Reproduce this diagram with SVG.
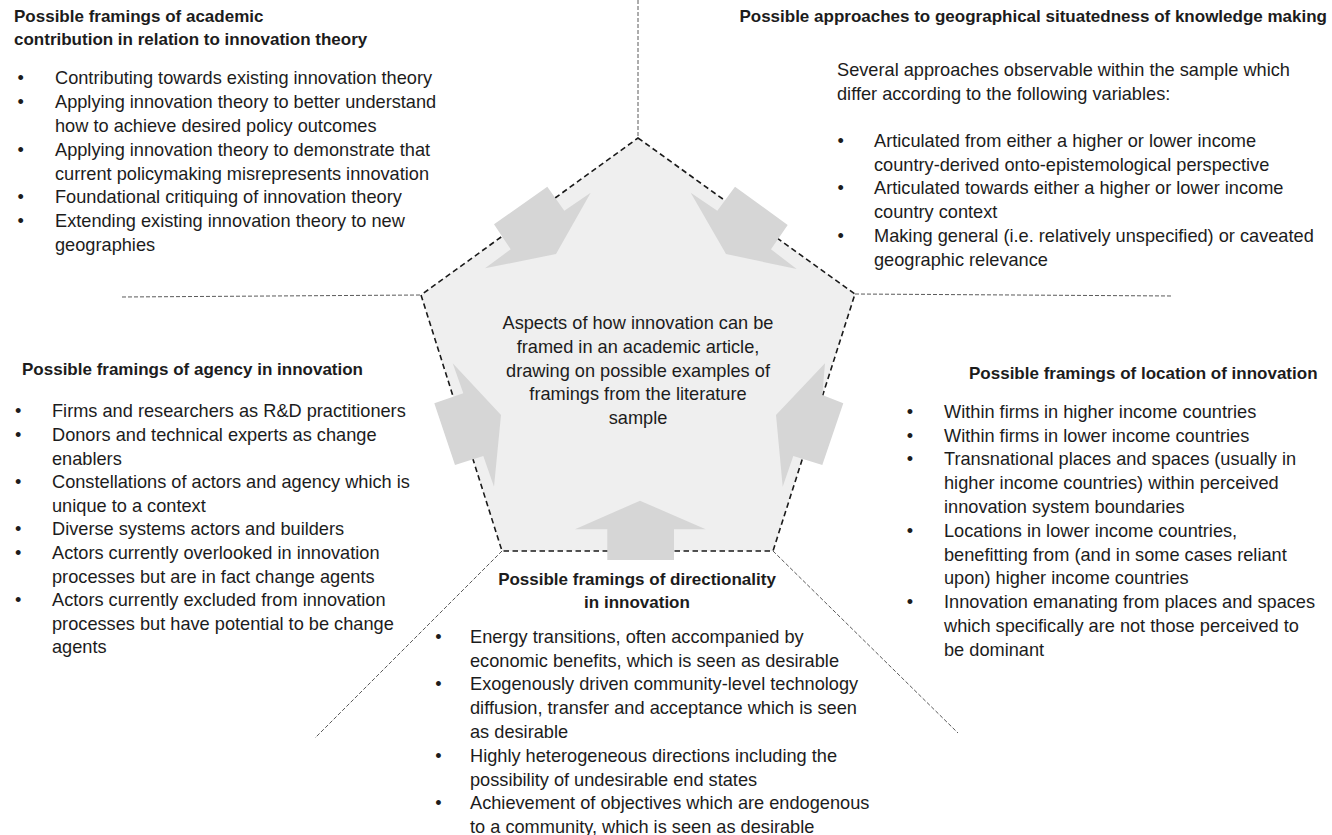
<svg xmlns="http://www.w3.org/2000/svg" width="1332" height="835" viewBox="0 0 1332 835">
  <style>
    text { font-family: "Liberation Sans", Arial, sans-serif; fill: #1c1c1c; }
    .body { font-size: 18.2px; }
    .title { font-size: 17px; font-weight: bold; }
    .bul { font-size: 18.2px; text-anchor: middle; }
    .mid { text-anchor: middle; }
    .end { text-anchor: end; }
    .guide { fill: none; stroke: #5a5a5a; stroke-width: 1; stroke-dasharray: 4 2; }
    .pent { fill: #efefef; stroke: #1a1a1a; stroke-width: 1.6; stroke-dasharray: 5.5 3.5; }
    .arrow { fill: #d6d6d6; stroke: none; }
  </style>

  <!-- dashed guide lines separating the five sectors -->
  <g id="connectors">
    <line class="guide" x1="638" y1="0" x2="638" y2="137"/>
    <line class="guide" x1="122" y1="297" x2="421" y2="295"/>
    <line class="guide" x1="855" y1="294" x2="1173" y2="296"/>
    <line class="guide" x1="502" y1="551" x2="315" y2="738"/>
    <line class="guide" x1="773" y1="551" x2="958" y2="733"/>
  </g>

  <!-- central pentagon with inward block arrows -->
  <g id="centre">
    <polygon class="pent" points="638,138 855,294 773,551 502,551 421,295"/>
    <polygon class="arrow" points="547.3,186.7 564.3,210.7 590.7,192.7 556,254 485,268.3 510.7,249.3 494,224.3"/>
    <polygon class="arrow" points="735,186.7 787.7,225 771,249.3 796.7,269 726,254 690.7,192.7 717.3,210.7"/>
    <polygon class="arrow" points="452.7,363.3 501,415 494,486.7 483.3,456 455,465 434.3,403.3 463.3,393.3"/>
    <polygon class="arrow" points="825,363.3 822.3,395 843.3,403.3 822.3,465 793.3,456 782.7,486.7 776,415"/>
    <polygon class="arrow" points="640,500.7 705.7,529.3 674,529.3 674,560 607.3,560 607.3,529.3 575,529.3"/>
    <text class="body mid" x="638" y="329.3">Aspects of how innovation can be</text>
    <text class="body mid" x="638" y="352.9">framed in an academic article,</text>
    <text class="body mid" x="638" y="376.5">drawing on possible examples of</text>
    <text class="body mid" x="638" y="400.1">framings from the literature</text>
    <text class="body mid" x="638" y="423.7">sample</text>
  </g>

  <!-- academic contribution -->
  <g id="contribution">
    <text class="title" x="14" y="22">Possible framings of academic</text>
    <text class="title" x="14" y="45">contribution in relation to innovation theory</text>
    <text class="bul" x="20.7" y="84.3">•</text>
    <text class="body" x="55" y="84.3">Contributing towards existing innovation theory</text>
    <text class="bul" x="20.7" y="108.1">•</text>
    <text class="body" x="55" y="108.1">Applying innovation theory to better understand</text>
    <text class="body" x="55" y="131.9">how to achieve desired policy outcomes</text>
    <text class="bul" x="20.7" y="155.7">•</text>
    <text class="body" x="55" y="155.7">Applying innovation theory to demonstrate that</text>
    <text class="body" x="55" y="179.5">current policymaking misrepresents innovation</text>
    <text class="bul" x="20.7" y="203.3">•</text>
    <text class="body" x="55" y="203.3">Foundational critiquing of innovation theory</text>
    <text class="bul" x="20.7" y="227.1">•</text>
    <text class="body" x="55" y="227.1">Extending existing innovation theory to new</text>
    <text class="body" x="55" y="250.9">geographies</text>
  </g>

  <!-- geographical situatedness -->
  <g id="situatedness">
    <text class="title end" x="1327" y="22">Possible approaches to geographical situatedness of knowledge making</text>
    <text class="body" x="837" y="76">Several approaches observable within the sample which</text>
    <text class="body" x="837" y="99.5">differ according to the following variables:</text>
    <text class="bul" x="840.7" y="146.7">•</text>
    <text class="body" x="874" y="146.7">Articulated from either a higher or lower income</text>
    <text class="body" x="874" y="170.5">country-derived onto-epistemological perspective</text>
    <text class="bul" x="840.7" y="194.3">•</text>
    <text class="body" x="874" y="194.3">Articulated towards either a higher or lower income</text>
    <text class="body" x="874" y="218.1">country context</text>
    <text class="bul" x="840.7" y="241.9">•</text>
    <text class="body" x="874" y="241.9">Making general (i.e. relatively unspecified) or caveated</text>
    <text class="body" x="874" y="265.7">geographic relevance</text>
  </g>

  <!-- agency -->
  <g id="agency">
    <text class="title" x="22" y="375">Possible framings of agency in innovation</text>
    <text class="bul" x="18.3" y="417.3">•</text>
    <text class="body" x="52" y="417.3">Firms and researchers as R&amp;D practitioners</text>
    <text class="bul" x="18.3" y="441">•</text>
    <text class="body" x="52" y="441">Donors and technical experts as change</text>
    <text class="body" x="52" y="464.6">enablers</text>
    <text class="bul" x="18.3" y="488.2">•</text>
    <text class="body" x="52" y="488.2">Constellations of actors and agency which is</text>
    <text class="body" x="52" y="511.8">unique to a context</text>
    <text class="bul" x="18.3" y="535.4">•</text>
    <text class="body" x="52" y="535.4">Diverse systems actors and builders</text>
    <text class="bul" x="18.3" y="559">•</text>
    <text class="body" x="52" y="559">Actors currently overlooked in innovation</text>
    <text class="body" x="52" y="582.6">processes but are in fact change agents</text>
    <text class="bul" x="18.3" y="606.2">•</text>
    <text class="body" x="52" y="606.2">Actors currently excluded from innovation</text>
    <text class="body" x="52" y="629.8">processes but have potential to be change</text>
    <text class="body" x="52" y="653.4">agents</text>
  </g>

  <!-- location -->
  <g id="location">
    <text class="title" x="969" y="379.3">Possible framings of location of innovation</text>
    <text class="bul" x="910" y="417.7">•</text>
    <text class="body" x="944" y="417.7">Within firms in higher income countries</text>
    <text class="bul" x="910" y="441.5">•</text>
    <text class="body" x="944" y="441.5">Within firms in lower income countries</text>
    <text class="bul" x="910" y="465.3">•</text>
    <text class="body" x="944" y="465.3">Transnational places and spaces (usually in</text>
    <text class="body" x="944" y="489.1">higher income countries) within perceived</text>
    <text class="body" x="944" y="512.9">innovation system boundaries</text>
    <text class="bul" x="910" y="536.7">•</text>
    <text class="body" x="944" y="536.7">Locations in lower income countries,</text>
    <text class="body" x="944" y="560.5">benefitting from (and in some cases reliant</text>
    <text class="body" x="944" y="584.3">upon) higher income countries</text>
    <text class="bul" x="910" y="608.1">•</text>
    <text class="body" x="944" y="608.1">Innovation emanating from places and spaces</text>
    <text class="body" x="944" y="631.9">which specifically are not those perceived to</text>
    <text class="body" x="944" y="655.7">be dominant</text>
  </g>

  <!-- directionality -->
  <g id="directionality">
    <text class="title mid" x="637" y="585">Possible framings of directionality</text>
    <text class="title mid" x="637" y="608">in innovation</text>
    <text class="bul" x="438.4" y="642.7">•</text>
    <text class="body" x="470" y="642.7">Energy transitions, often accompanied by</text>
    <text class="body" x="470" y="666.5">economic benefits, which is seen as desirable</text>
    <text class="bul" x="438.4" y="690.3">•</text>
    <text class="body" x="470" y="690.3">Exogenously driven community-level technology</text>
    <text class="body" x="470" y="714.1">diffusion, transfer and acceptance which is seen</text>
    <text class="body" x="470" y="737.9">as desirable</text>
    <text class="bul" x="438.4" y="761.7">•</text>
    <text class="body" x="470" y="761.7">Highly heterogeneous directions including the</text>
    <text class="body" x="470" y="785.5">possibility of undesirable end states</text>
    <text class="bul" x="438.4" y="809.3">•</text>
    <text class="body" x="470" y="809.3">Achievement of objectives which are endogenous</text>
    <text class="body" x="470" y="833.1">to a community, which is seen as desirable</text>
  </g>
</svg>
